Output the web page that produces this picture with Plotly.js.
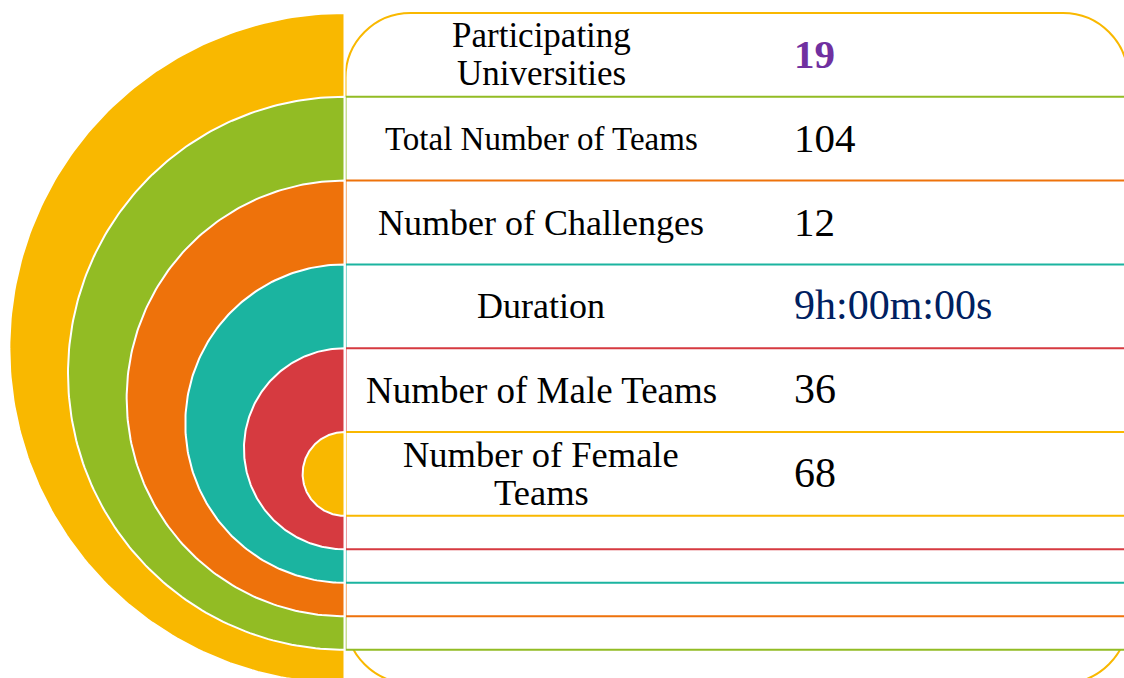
<!DOCTYPE html>
<html><head><meta charset="utf-8">
<script src="https://cdn.plot.ly/plotly-3.0.1.min.js"></script>
<style>html,body{margin:0;padding:0;background:#fff;overflow:hidden}#chart{width:1124px;height:678px}</style>
</head><body><div id="chart"></div>
<script>
// ---- data ----
const labels = ['Participating<br>Universities', 'Total Number of Teams', 'Number of Challenges', 'Duration', 'Number of Male Teams', 'Number of Female<br>Teams'];
const values = ['19', '104', '12', '9h:00m:00s', '36', '68'];

// ---- styles ----
const ringColors = ['#F9B800', '#92BC24', '#EE720B', '#1BB4A0', '#D63A40', '#F9B800'];
const valueColors = ['#7030A0', '#000000', '#000000', '#002060', '#000000', '#000000'];
const valueWeights = ['bold', 'normal', 'normal', 'normal', 'normal', 'normal'];
const labelSizes = [35, 33, 36, 36, 37, 36.5];
const valueSizes = [41, 41, 41, 42, 42, 42];
const FONT = 'Liberation Serif, Times New Roman, serif';

// ---- layout geometry (pixel-like data units) ----
const W = 1124, H = 678;
const top0 = 13, rowH = 83.8, botStep = 33.5;
const edgeX = 345.5, rightX = 1128, corner = 65;
const labelX = 541, valueX = 792, lineGap = 38;
const n = labels.length;

const ringTop = i => top0 + rowH * i;
const ringBot = i => top0 + rowH * n + botStep * (n - 1 - i);

const traces = [];
const shapes = [];
const annotations = [];

for (let i = 0; i < n; i++) {
  const t = ringTop(i), b = ringBot(i);
  const cy = (t + b) / 2, r = (b - t) / 2;
  // semicircle
  const xs = [], ys = [];
  for (let k = 0; k <= 180; k++) {
    const a = (-90 + k) * Math.PI / 180;
    xs.push(edgeX - 1 - r * Math.cos(a));
    ys.push(cy + r * Math.sin(a));
  }
  xs.push(xs[0]); ys.push(ys[0]);
  traces.push({
    type: 'scatter', mode: 'lines', x: xs, y: ys, fill: 'toself',
    fillcolor: ringColors[i], line: {color: '#ffffff', width: 2},
    hoverinfo: 'skip', showlegend: false
  });
  // frame
  if (i === 0) {
    const L = edgeX, R = rightX, T = t, B = b, c = corner, k = 0.5523 * c;
    const p = `M ${L} ${T + c} C ${L} ${T + c - k} ${L + c - k} ${T} ${L + c} ${T} ` +
      `L ${R - c} ${T} C ${R - c + k} ${T} ${R} ${T + c - k} ${R} ${T + c} ` +
      `L ${R} ${B - c} C ${R} ${B - c + k} ${R - c + k} ${B} ${R - c} ${B} ` +
      `L ${L + c} ${B} C ${L + c - k} ${B} ${L} ${B - c + k} ${L} ${B - c} Z`;
    shapes.push({type: 'path', xref: 'x', yref: 'y', path: p, fillcolor: '#ffffff',
      line: {color: ringColors[i], width: 2}, layer: 'below'});
  } else {
    shapes.push({type: 'rect', xref: 'x', yref: 'y', x0: edgeX, x1: rightX, y0: t, y1: b,
      fillcolor: '#ffffff', line: {color: ringColors[i], width: 2}, layer: 'below'});
  }
}

for (let i = 0; i < n; i++) {
  const cy = top0 + rowH * (i + 0.5);
  const lines = labels[i].split('<br>');
  lines.forEach((ln, j) => {
    const off = (j - (lines.length - 1) / 2) * lineGap;
    annotations.push({
      xref: 'x', yref: 'y', x: labelX, y: cy + off, text: ln, showarrow: false,
      xanchor: 'center', yanchor: 'middle',
      font: {family: FONT, size: labelSizes[i], color: '#000000'}
    });
  });
  annotations.push({
    xref: 'x', yref: 'y', x: valueX, y: cy - 1, text: values[i], showarrow: false,
    xanchor: 'left', yanchor: 'middle',
    font: {family: FONT, size: valueSizes[i], color: valueColors[i], weight: valueWeights[i]}
  });
}

const layout = {
  width: W, height: H, margin: {l: 0, r: 0, t: 0, b: 0, pad: 0},
  paper_bgcolor: '#ffffff', plot_bgcolor: '#ffffff',
  xaxis: {range: [0, W], visible: false, fixedrange: true},
  yaxis: {range: [H, 0], visible: false, fixedrange: true},
  showlegend: false, hovermode: false,
  shapes: shapes, annotations: annotations
};

Plotly.newPlot('chart', traces, layout, {displayModeBar: false, staticPlot: true});
</script>
</body></html>
